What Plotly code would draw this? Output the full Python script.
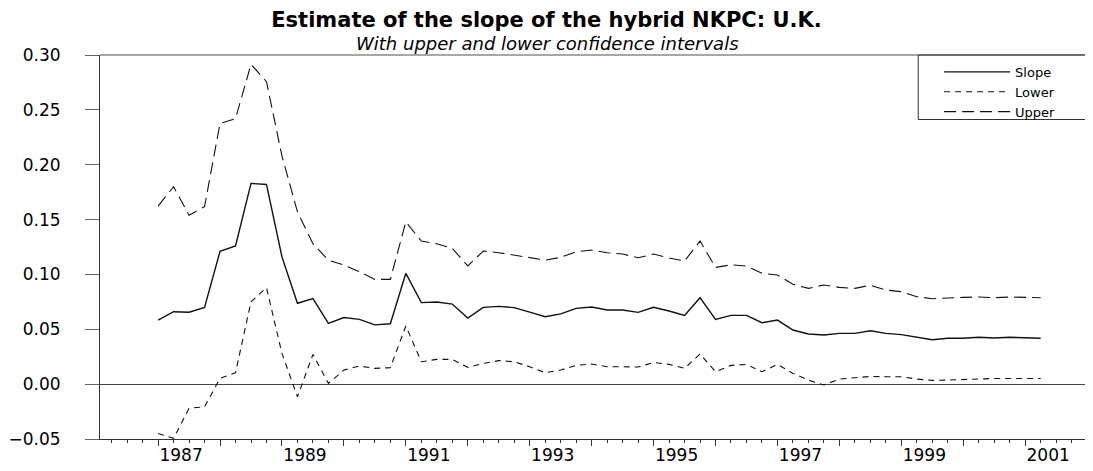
import plotly.graph_objects as go

# Quarterly observations, 1987Q1 .. 2001Q2
start_year = 1987
n_obs = 58
quarters = [start_year + i / 4 for i in range(n_obs)]

slope = [0.0584, 0.0660, 0.0655, 0.0700, 0.1210, 0.1260, 0.1830, 0.1820, 0.1160, 0.0737,
         0.0780, 0.0554, 0.0607, 0.0590, 0.0540, 0.0550, 0.1010, 0.0743, 0.0749, 0.0730,
         0.0603, 0.0700, 0.0709, 0.0697, 0.0657, 0.0615, 0.0640, 0.0691, 0.0703, 0.0676,
         0.0676, 0.0654, 0.0700, 0.0667, 0.0627, 0.0788, 0.0590, 0.0627, 0.0627, 0.0560,
         0.0584, 0.0493, 0.0457, 0.0448, 0.0463, 0.0463, 0.0487, 0.0463, 0.0451, 0.0427,
         0.0405, 0.0418, 0.0418, 0.0427, 0.0420, 0.0427, 0.0420, 0.0418]

lower = [-0.0449, -0.0494, -0.0220, -0.0206, 0.0053, 0.0104, 0.0750, 0.0880, 0.0280, -0.0115,
         0.0271, 0.0007, 0.0128, 0.0165, 0.0144, 0.0150, 0.0530, 0.0204, 0.0226, 0.0226,
         0.0153, 0.0189, 0.0214, 0.0204, 0.0159, 0.0104, 0.0129, 0.0171, 0.0183, 0.0159,
         0.0159, 0.0156, 0.0198, 0.0180, 0.0144, 0.0274, 0.0113, 0.0171, 0.0180, 0.0113,
         0.0180, 0.0098, 0.0037, -0.0008, 0.0046, 0.0058, 0.0070, 0.0068, 0.0068, 0.0046,
         0.0034, 0.0037, 0.0043, 0.0052, 0.0052, 0.0052, 0.0052, 0.0052]

upper = [0.1623, 0.1800, 0.1540, 0.1618, 0.2377, 0.2420, 0.2915, 0.2757, 0.2080, 0.1570,
         0.1280, 0.1130, 0.1086, 0.1025, 0.0955, 0.0955, 0.1480, 0.1304, 0.1280, 0.1238,
         0.1077, 0.1213, 0.1198, 0.1177, 0.1155, 0.1131, 0.1155, 0.1207, 0.1222, 0.1198,
         0.1186, 0.1152, 0.1186, 0.1149, 0.1122, 0.1304, 0.1064, 0.1088, 0.1076, 0.1010,
         0.0995, 0.0910, 0.0873, 0.0904, 0.0882, 0.0873, 0.0901, 0.0858, 0.0843, 0.0797,
         0.0779, 0.0788, 0.0791, 0.0794, 0.0788, 0.0794, 0.0791, 0.0788]

year_ticks = list(range(1987, 2002))
year_labels = [str(y) if y % 2 == 1 else "" for y in year_ticks]
y_ticks = [-0.05, 0.00, 0.05, 0.10, 0.15, 0.20, 0.25, 0.30]

title_text = "Estimate of the slope of the hybrid NKPC: U.K."
subtitle_text = "With upper and lower confidence intervals"

FONT = "DejaVu Sans"

# The page body has an 8px margin, so the figure is sized to fit the window.
FIG_W, FIG_H = 1085, 463

fig = go.Figure()
fig.add_trace(go.Scatter(x=quarters, y=slope, mode="lines", name="Slope",
                         line=dict(color="#111111", width=1.4)))
fig.add_trace(go.Scatter(x=quarters, y=lower, mode="lines", name="Lower",
                         line=dict(color="#111111", width=1.1, dash="6px,5px")))
fig.add_trace(go.Scatter(x=quarters, y=upper, mode="lines", name="Upper",
                         line=dict(color="#111111", width=1.1, dash="12px,6px")))

fig.update_layout(
    width=FIG_W, height=FIG_H,
    margin=dict(l=89, r=0, t=47, b=32),
    paper_bgcolor="white", plot_bgcolor="white",
    font=dict(family=FONT, color="black", size=16),
    title=dict(text="<b>" + title_text + "</b>", x=538.5 / FIG_W, xref="container",
               y=1 - 4 / FIG_H, yref="container", xanchor="center", yanchor="top",
               pad=dict(t=0, b=0),
               font=dict(family=FONT, size=21, color="black")),
    annotations=[dict(text="<i>" + subtitle_text + "</i>", x=0.451, xref="paper",
                      y=(431 - 35) / 384, yref="paper", xanchor="center", yanchor="middle",
                      showarrow=False, font=dict(family=FONT, size=18, color="black"))],
    showlegend=True,
    legend=dict(x=0.845, y=0.995, xanchor="left", yanchor="top",
                bgcolor="rgba(0,0,0,0)", borderwidth=0,
                font=dict(family=FONT, size=13, color="black"),
                itemwidth=66, tracegroupgap=0),
    shapes=[
        dict(type="line", xref="paper", yref="paper", x0=0, x1=1, y0=1, y1=1,
             line=dict(color="#8a8a8a", width=1.5)),
        dict(type="rect", xref="paper", yref="paper", x0=0.824, x1=1.01, y0=0.832, y1=1,
             line=dict(color="#333333", width=1), fillcolor="rgba(0,0,0,0)"),
    ],
)

fig.update_xaxes(
    range=[1986.062, 2002.095], showgrid=False, zeroline=False,
    showline=True, linecolor="#333333", linewidth=1,
    tickmode="array", tickvals=year_ticks, ticktext=year_labels,
    ticks="outside", ticklen=6, tickcolor="#333333", tickwidth=1,
    ticklabelshift=23, ticklabelstandoff=-5,
    tickfont=dict(family=FONT, size=17, color="black"),
    minor=dict(ticks="outside", ticklen=3, tick0=1987, dtick=0.25,
               tickcolor="#333333", tickwidth=1, showgrid=False),
)
fig.update_yaxes(
    range=[-0.05, 0.30], showgrid=False,
    zeroline=True, zerolinecolor="#444444", zerolinewidth=1,
    showline=True, linecolor="#333333", linewidth=1,
    tickmode="array", tickvals=y_ticks, tickformat=".2f",
    ticks="outside", ticklen=14, tickcolor="#666666", tickwidth=1,
    ticklabelstandoff=21,
    tickfont=dict(family=FONT, size=17, color="black"),
)

fig.write_html("out.html")
